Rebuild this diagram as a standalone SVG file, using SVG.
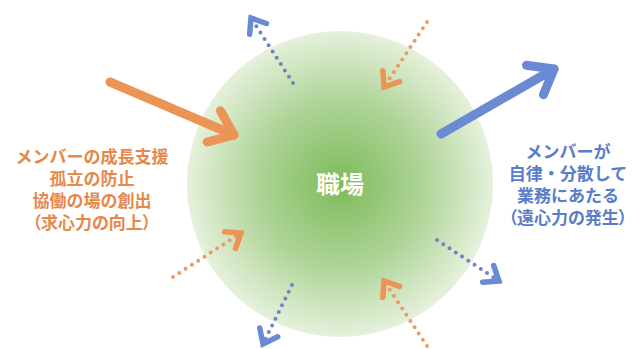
<svg xmlns="http://www.w3.org/2000/svg" width="633" height="349" viewBox="0 0 633 349">
<defs>
<radialGradient id="g" cx="0.5" cy="0.5" r="0.5">
<stop offset="0" stop-color="#7dbb5a"/>
<stop offset="0.55" stop-color="#afd498"/>
<stop offset="1" stop-color="#e6f1dc"/>
</radialGradient>
<marker id="hO" markerUnits="userSpaceOnUse" viewBox="-20 -14 24 28" markerWidth="24" markerHeight="28" refX="0" refY="0" orient="auto">
<path d="M-13,-10 L0,0 L-13,10" fill="none" stroke="#ec9455" stroke-width="5.5" stroke-linecap="round" stroke-linejoin="miter"/>
</marker>
<marker id="hB" markerUnits="userSpaceOnUse" viewBox="-20 -14 24 28" markerWidth="24" markerHeight="28" refX="0" refY="0" orient="auto">
<path d="M-13,-10 L0,0 L-13,10" fill="none" stroke="#6a8bd3" stroke-width="5.5" stroke-linecap="round" stroke-linejoin="miter"/>
</marker>
<marker id="bO" markerUnits="userSpaceOnUse" viewBox="-30 -24 36 48" markerWidth="36" markerHeight="48" refX="0" refY="0" orient="auto">
<path d="M-22,-17 L0,0 L-22,17" fill="none" stroke="#ec9455" stroke-width="9" stroke-linecap="round" stroke-linejoin="round"/>
</marker>
<marker id="bB" markerUnits="userSpaceOnUse" viewBox="-30 -24 36 48" markerWidth="36" markerHeight="48" refX="0" refY="0" orient="auto">
<path d="M-22,-17 L0,0 L-22,17" fill="none" stroke="#6a8bd3" stroke-width="9" stroke-linecap="round" stroke-linejoin="round"/>
</marker>
</defs>
<style>
.t{font-family:"Noto Sans CJK JP","Noto Sans",sans-serif;font-weight:bold;font-size:17px;text-anchor:middle}
.p{font-feature-settings:"palt"}
.o{fill:#e5884a}
.b{fill:#5a7dc8}
.dO{fill:none;stroke:#ec9a62;stroke-width:4;stroke-linecap:round;stroke-dasharray:0 7.5}
.dB{fill:none;stroke:#6a86c8;stroke-width:4;stroke-linecap:round;stroke-dasharray:0 7.5}
</style>
<g id="workplace">
<circle cx="340" cy="184" r="153" fill="url(#g)"/>
<text x="340" y="193" font-family="'Noto Sans CJK JP',sans-serif" font-weight="bold" font-size="24" fill="#ffffff" text-anchor="middle">職場</text>
</g>
<g id="label-left">
<text class="t o" x="92" y="163"><tspan x="92" y="163">メンバーの成長支援</tspan><tspan x="92" y="185">孤立の防止</tspan><tspan x="92" y="207">協働の場の創出</tspan><tspan class="p" x="92" y="229">（求心力の向上）</tspan></text>
</g>
<g id="label-right">
<text class="t b" x="568" y="158"><tspan x="568" y="158">メンバーが</tspan><tspan x="568" y="180">自律・分散して</tspan><tspan x="568" y="202">業務にあたる</tspan><tspan class="p" x="568" y="224">（遠心力の発生）</tspan></text>
</g>
<g id="connectors">
<path d="M110,82 L234,135" fill="none" stroke="#ec9455" stroke-width="9" stroke-linecap="round" marker-end="url(#bO)"/>
<path d="M441,134 L554,69" fill="none" stroke="#6a8bd3" stroke-width="9" stroke-linecap="round" marker-end="url(#bB)"/>
<path class="dB" d="M293,83 L251,18" marker-end="url(#hB)"/>
<path class="dO" d="M427,22 L384,87" marker-end="url(#hO)"/>
<path class="dO" d="M173,277 L241,233" marker-end="url(#hO)"/>
<path class="dB" d="M292,285 L263,344" marker-end="url(#hB)"/>
<path class="dO" d="M427,346 L384,281" marker-end="url(#hO)"/>
<path class="dB" d="M437,240 L499,281" marker-end="url(#hB)"/>
</g>
</svg>
